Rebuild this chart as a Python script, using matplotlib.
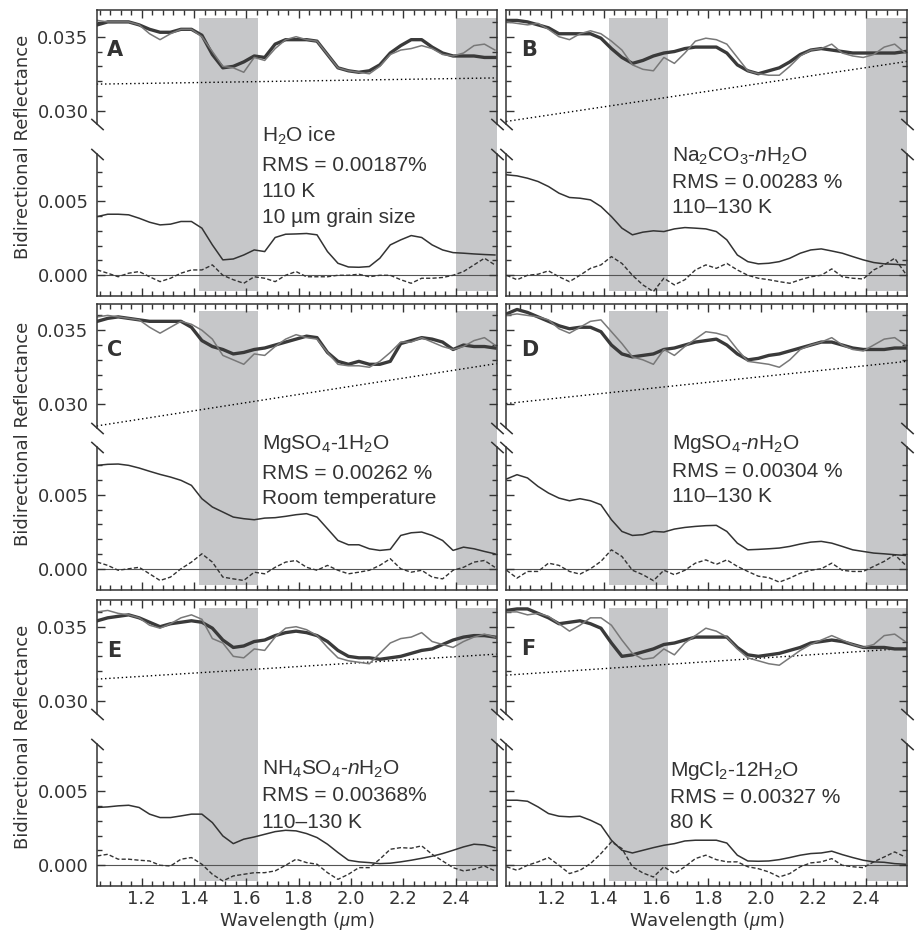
import matplotlib
matplotlib.use('Agg')
import matplotlib.pyplot as plt
import numpy as np
from matplotlib.ticker import FixedLocator, MultipleLocator, NullFormatter

plt.rcParams['font.family'] = 'DejaVu Sans'
plt.rcParams['mathtext.fontset'] = 'custom'
plt.rcParams['mathtext.rm'] = 'Liberation Sans'
plt.rcParams['mathtext.it'] = 'Liberation Sans:italic'

# wavelength grid (um)
wl = [1.03, 1.07, 1.11, 1.15, 1.19, 1.23, 1.27, 1.31, 1.35, 1.39, 1.43, 1.47, 1.51,
      1.55, 1.59, 1.63, 1.67, 1.71, 1.75, 1.79, 1.83, 1.87, 1.91, 1.95, 1.99, 2.03,
      2.07, 2.11, 2.15, 2.19, 2.23, 2.27, 2.31, 2.35, 2.39, 2.43, 2.47, 2.51, 2.55]
cont_wl = [1.028, 2.557]

# ---- A : H2O ice
a_fit = [0.0358, 0.0360, 0.0360, 0.0360, 0.0358, 0.0355, 0.0353, 0.0353, 0.0355, 0.0355, 0.0351, 0.0338, 0.0329,
         0.0330, 0.0333, 0.0337, 0.0336, 0.0345, 0.0348, 0.0348, 0.0348, 0.0347, 0.0338, 0.0329, 0.0327, 0.0326,
         0.0327, 0.0331, 0.0339, 0.0344, 0.0348, 0.0348, 0.0343, 0.0339, 0.0337, 0.0337, 0.0337, 0.0336, 0.0336]
a_obs = [0.0361, 0.0360, 0.0360, 0.0360, 0.0358, 0.0352, 0.0348, 0.0352, 0.0355, 0.0355, 0.0350, 0.0340, 0.0330,
         0.0329, 0.0326, 0.0336, 0.0334, 0.0342, 0.0348, 0.0350, 0.0348, 0.0347, 0.0338, 0.0329, 0.0327, 0.0326,
         0.0325, 0.0330, 0.0338, 0.0341, 0.0342, 0.0344, 0.0342, 0.0338, 0.0337, 0.0339, 0.0344, 0.0345, 0.0341]
a_comp = [0.00396, 0.00412, 0.00412, 0.00408, 0.00385, 0.00358, 0.00340, 0.00345, 0.00363, 0.00363, 0.00318, 0.00205, 0.00104,
          0.00110, 0.00137, 0.00171, 0.00160, 0.00255, 0.00277, 0.00279, 0.00282, 0.00273, 0.00160, 0.00081, 0.00056, 0.00054,
          0.00059, 0.00115, 0.00205, 0.00239, 0.00268, 0.00255, 0.00205, 0.00171, 0.00153, 0.00149, 0.00144, 0.00140, 0.00137]
a_res = [0.00036, 0.00014, -0.0001, 0.00014, 0.00025, -0.0001, -0.00043, -0.0002, 0.00014, 0.00036, 0.00036, 0.0007, 0.0,
         -0.0003, -0.00054, -0.0001, -0.0002, -0.00043, 0.0, 0.00025, -0.0001, -0.0001, -0.0001, 0.0, 0.0, 0.00007,
         -0.0001, 0.0, 0.0, -0.0003, -0.00054, -0.0002, -0.0002, -0.00015, 0.0, 0.00025, 0.0007, 0.00115, 0.0007]
a_cont = [0.0318, 0.03222]

# ---- B : Na2CO3-nH2O
b_fit = [0.0361, 0.0361, 0.0360, 0.0358, 0.0356, 0.0352, 0.0352, 0.0352, 0.0352, 0.0349, 0.0342, 0.0336, 0.0332,
         0.0334, 0.0337, 0.0339, 0.0340, 0.0342, 0.0343, 0.0343, 0.0343, 0.0339, 0.0331, 0.0327, 0.0325, 0.0327,
         0.0329, 0.0333, 0.0338, 0.0341, 0.0342, 0.0341, 0.0340, 0.0339, 0.0339, 0.0339, 0.0339, 0.0339, 0.0340]
b_obs = [0.0360, 0.0359, 0.0358, 0.0359, 0.0355, 0.0350, 0.0348, 0.0352, 0.0354, 0.0352, 0.0347, 0.0341, 0.0331,
         0.0328, 0.0327, 0.0336, 0.0332, 0.0339, 0.0347, 0.0349, 0.0348, 0.0345, 0.0336, 0.0327, 0.0325, 0.0324,
         0.0324, 0.0330, 0.0337, 0.0341, 0.0342, 0.0345, 0.0339, 0.0337, 0.0336, 0.0338, 0.0343, 0.0345, 0.0339]
b_comp = [0.00678, 0.00671, 0.00655, 0.00633, 0.00599, 0.00554, 0.00525, 0.00520, 0.00509, 0.00464, 0.00396, 0.00318, 0.00273,
          0.00291, 0.00300, 0.00295, 0.00313, 0.00322, 0.00318, 0.00313, 0.00295, 0.00239, 0.00137, 0.00092, 0.00077, 0.00081,
          0.00092, 0.00115, 0.00149, 0.00171, 0.00178, 0.00164, 0.00149, 0.00126, 0.00104, 0.00086, 0.00077, 0.00074, 0.00070]
b_res = [0.0, -0.0003, 0.0, 0.00007, 0.0003, -0.0001, -0.00043, 0.0, 0.00047, 0.0007, 0.00126, 0.0008, 0.0,
         -0.00065, -0.0011, -0.0002, -0.00065, -0.0003, 0.00036, 0.0007, 0.00047, 0.0008, 0.00036, 0.0, -0.0002, -0.0003,
         -0.00043, -0.00054, -0.0003, -0.0001, 0.0, 0.00043, -0.0001, -0.0002, -0.00025, 0.00036, 0.0007, 0.00115, 0.00014]
b_cont = [0.02928, 0.03333]

# ---- C : MgSO4-1H2O
c_fit = [0.0356, 0.0358, 0.0359, 0.0358, 0.0357, 0.0356, 0.0356, 0.0356, 0.0356, 0.0352, 0.0343, 0.0339, 0.0337,
         0.0334, 0.0335, 0.0337, 0.0338, 0.0340, 0.0342, 0.0344, 0.0346, 0.0345, 0.0335, 0.0329, 0.0327, 0.0329,
         0.0327, 0.0327, 0.0329, 0.0341, 0.0343, 0.0345, 0.0344, 0.0342, 0.0337, 0.0340, 0.0339, 0.0339, 0.0338]
c_obs = [0.0359, 0.0360, 0.0359, 0.0358, 0.0357, 0.0352, 0.0348, 0.0352, 0.0356, 0.0354, 0.0350, 0.0344, 0.0333,
         0.0330, 0.0327, 0.0334, 0.0333, 0.0339, 0.0344, 0.0347, 0.0345, 0.0344, 0.0335, 0.0327, 0.0326, 0.0326,
         0.0325, 0.0329, 0.0335, 0.0342, 0.0342, 0.0345, 0.0342, 0.0339, 0.0337, 0.0339, 0.0343, 0.0345, 0.0340]
c_comp = [0.00698, 0.00705, 0.00707, 0.00698, 0.00680, 0.00658, 0.00637, 0.00619, 0.00597, 0.00563, 0.00473, 0.00417, 0.00383,
          0.00349, 0.00338, 0.00331, 0.00342, 0.00345, 0.00354, 0.00365, 0.00372, 0.00349, 0.00270, 0.00191, 0.00162, 0.00162,
          0.00135, 0.00124, 0.00131, 0.00225, 0.00243, 0.00248, 0.00225, 0.00191, 0.00124, 0.00146, 0.00135, 0.00117, 0.00101]
c_res = [0.00045, 0.00023, -0.0001, 0.0, 0.0001, -0.00034, -0.00079, -0.00056, 0.0, 0.00045, 0.00101, 0.00045, -0.00056,
         -0.00068, -0.00079, -0.00023, -0.00034, 0.0001, 0.00045, 0.00056, 0.0001, -0.0001, 0.00023, -0.0001, -0.00034, -0.00023,
         -0.0001, 0.00023, 0.00068, 0.0, -0.00023, -0.0001, -0.00056, -0.00068, -0.0001, 0.0001, 0.00045, 0.00056, 0.0001]
c_cont = [0.02854, 0.03275]

# ---- D : MgSO4-nH2O
d_fit = [0.0361, 0.0364, 0.0362, 0.0359, 0.0356, 0.0353, 0.0351, 0.0352, 0.0352, 0.0349, 0.0340, 0.0334, 0.0332,
         0.0333, 0.0334, 0.0337, 0.0338, 0.0340, 0.0342, 0.0343, 0.0344, 0.0340, 0.0334, 0.0330, 0.0331, 0.0333,
         0.0334, 0.0336, 0.0338, 0.0340, 0.0342, 0.0342, 0.0340, 0.0338, 0.0337, 0.0337, 0.0337, 0.0338, 0.0338]
d_obs = [0.0360, 0.0361, 0.0360, 0.0359, 0.0357, 0.0351, 0.0348, 0.0352, 0.0356, 0.0357, 0.0349, 0.0341, 0.0332,
         0.0330, 0.0327, 0.0337, 0.0333, 0.0339, 0.0344, 0.0349, 0.0348, 0.0346, 0.0337, 0.0329, 0.0328, 0.0327,
         0.0325, 0.0330, 0.0337, 0.0340, 0.0342, 0.0345, 0.0340, 0.0337, 0.0336, 0.0340, 0.0344, 0.0345, 0.0340]
d_comp = [0.00606, 0.00635, 0.00613, 0.00556, 0.00511, 0.00477, 0.00459, 0.00473, 0.00459, 0.00432, 0.00331, 0.00252, 0.00225,
          0.00230, 0.00252, 0.00248, 0.00268, 0.00279, 0.00286, 0.00291, 0.00293, 0.00252, 0.00173, 0.00128, 0.00131, 0.00135,
          0.00140, 0.00151, 0.00167, 0.00180, 0.00185, 0.00173, 0.00151, 0.00128, 0.00117, 0.00106, 0.00101, 0.00095, 0.00090]
d_res = [-0.0001, -0.00063, -0.00018, -0.00018, 0.00038, 0.00023, -0.00018, -0.00036, 0.0, 0.0005, 0.00128, 0.00083, -0.0001,
         -0.0004, -0.0008, -0.0001, -0.0004, -0.0001, 0.00038, 0.0006, 0.0003, 0.0006, 0.00016, -0.00018, -0.0005, -0.0006,
         -0.0009, -0.00063, -0.0003, -0.0001, 0.0, 0.00038, -0.0001, -0.00018, -0.00018, 0.00016, 0.0005, 0.00095, 0.00027]
d_cont = [0.03005, 0.0329]

# ---- E : NH4SO4-nH2O
e_fit = [0.0354, 0.0356, 0.0357, 0.0358, 0.0356, 0.0353, 0.0350, 0.0352, 0.0353, 0.0354, 0.0353, 0.0349, 0.0341,
         0.0336, 0.0337, 0.0340, 0.0341, 0.0344, 0.0346, 0.0347, 0.0346, 0.0344, 0.0340, 0.0334, 0.0330, 0.0329,
         0.0329, 0.0328, 0.0329, 0.0330, 0.0332, 0.0334, 0.0335, 0.0338, 0.0341, 0.0343, 0.0344, 0.0344, 0.0343]
e_obs = [0.0360, 0.0361, 0.0359, 0.0358, 0.0356, 0.0351, 0.0349, 0.0352, 0.0356, 0.0358, 0.0355, 0.0342, 0.0339,
         0.0330, 0.0329, 0.0335, 0.0334, 0.0343, 0.0349, 0.0350, 0.0348, 0.0344, 0.0336, 0.0329, 0.0327, 0.0326,
         0.0325, 0.0332, 0.0339, 0.0342, 0.0343, 0.0346, 0.0340, 0.0338, 0.0336, 0.0340, 0.0343, 0.0345, 0.0343]
e_comp = [0.00390, 0.00394, 0.00401, 0.00405, 0.00390, 0.00345, 0.00322, 0.00322, 0.00333, 0.00345, 0.00345, 0.00288, 0.00198,
          0.00146, 0.00176, 0.00191, 0.00209, 0.00227, 0.00236, 0.00232, 0.00214, 0.00187, 0.00142, 0.00086, 0.00034, 0.00023,
          0.00018, 0.00011, 0.00014, 0.00023, 0.00034, 0.00047, 0.00061, 0.00079, 0.00101, 0.00124, 0.00142, 0.00137, 0.00119]
e_res = [0.00063, 0.00074, 0.00041, 0.00041, 0.00034, 0.00029, 0.0, -0.00005, 0.00041, 0.00052, 0.00007, -0.00061, -0.00106,
         -0.00072, -0.00061, -0.0005, -0.0005, -0.00038, 0.0, 0.00041, 0.00018, 0.00007, -0.0005, -0.00095, -0.00061, -0.00016,
         -0.00016, 0.00041, 0.00108, 0.00119, 0.00115, 0.00131, 0.00074, 0.00029, -0.00016, -0.00038, -0.00027, -0.00005, -0.00038]
e_cont = [0.03146, 0.03315]

# ---- F : MgCl2-12H2O
f_fit = [0.0361, 0.0362, 0.0362, 0.0359, 0.0356, 0.0352, 0.0353, 0.0354, 0.0352, 0.0349, 0.0339, 0.0330, 0.0331,
         0.0333, 0.0335, 0.0338, 0.0339, 0.0341, 0.0343, 0.0343, 0.0343, 0.0343, 0.0336, 0.0331, 0.0330, 0.0331,
         0.0332, 0.0334, 0.0336, 0.0339, 0.0340, 0.0341, 0.0340, 0.0338, 0.0336, 0.0336, 0.0336, 0.0335, 0.0335]
f_obs = [0.0360, 0.0360, 0.0358, 0.0359, 0.0357, 0.0352, 0.0347, 0.0351, 0.0356, 0.0356, 0.0351, 0.0341, 0.0332,
         0.0328, 0.0329, 0.0335, 0.0331, 0.0339, 0.0344, 0.0349, 0.0347, 0.0343, 0.0335, 0.0329, 0.0327, 0.0325,
         0.0324, 0.0329, 0.0334, 0.0338, 0.0341, 0.0344, 0.0341, 0.0338, 0.0336, 0.0338, 0.0344, 0.0345, 0.0340]
f_comp = [0.00439, 0.00439, 0.00432, 0.00394, 0.00349, 0.00331, 0.00327, 0.00331, 0.00304, 0.00270, 0.00169, 0.00101, 0.00083,
          0.00101, 0.00119, 0.00135, 0.00146, 0.00164, 0.00169, 0.00169, 0.00169, 0.00150, 0.00068, 0.00029, 0.00027, 0.00029,
          0.00038, 0.00052, 0.00068, 0.00079, 0.00083, 0.00095, 0.00072, 0.00052, 0.00034, 0.00023, 0.00020, 0.00011, 0.00007]
f_res = [-0.0001, -0.00034, 0.0, 0.00023, 0.00052, 0.0, -0.00056, -0.00034, 0.00011, 0.00079, 0.00158, 0.00113, -0.0001,
         -0.00052, -0.00079, -0.0001, -0.00056, -0.0001, 0.00045, 0.00068, 0.00038, 0.00023, 0.00023, -0.0001, -0.00023, -0.00045,
         -0.00079, -0.00056, -0.0001, 0.00016, 0.00023, 0.00045, 0.0, -0.0001, -0.00016, 0.00023, 0.00056, 0.0009, 0.00056]
f_cont = [0.03173, 0.03354]

letters = ['A', 'B', 'C', 'D', 'E', 'F']
notes = [['H$_2$O ice', 'RMS = 0.00187%', '110 K', '10 µm grain size'],
         ['Na$_2$CO$_3$-$n$H$_2$O', 'RMS = 0.00283 %', '110–130 K'],
         ['MgSO$_4$-1H$_2$O', 'RMS = 0.00262 %', 'Room temperature'],
         ['MgSO$_4$-$n$H$_2$O', 'RMS = 0.00304 %', '110–130 K'],
         ['NH$_4$SO$_4$-$n$H$_2$O', 'RMS = 0.00368%', '110–130 K'],
         ['MgCl$_2$-12H$_2$O', 'RMS = 0.00327 %', '80 K']]

fits = [a_fit, b_fit, c_fit, d_fit, e_fit, f_fit]
obss = [a_obs, b_obs, c_obs, d_obs, e_obs, f_obs]
comps = [a_comp, b_comp, c_comp, d_comp, e_comp, f_comp]
ress = [a_res, b_res, c_res, d_res, e_res, f_res]
conts = [a_cont, b_cont, c_cont, d_cont, e_cont, f_cont]

# layout (figure fractions) and per panel tweaks
col_left = [0.1056, 0.5524]
col_w = [0.4367, 0.4378]
row_bot = [0.6817, 0.3661, 0.0473]
row_h = 0.3075
brk_hi = [0.0291, 0.0291, 0.0284, 0.0284, 0.0291, 0.0291]
note_x = [0.4125, 0.413, 0.4125, 0.413, 0.4125, 0.409]
note_y = [[131.5, 160.5, 186.5, 212.5], [151.5, 178, 203], [145, 175, 200],
          [145, 173.5, 198.5], [174.5, 201, 227.5], [176, 202.5, 227.5]]
let_x = [0.026, 0.037, 0.026, 0.037, 0.026, 0.037]
let_y = [0.86, 0.86, 0.839, 0.839, 0.823, 0.83]

LO = 0.0082
SHIFT = 0.0189
INK = '#333333'


def make_scale(hi):
    top = hi - SHIFT

    def fwd(y):
        y = np.asarray(y, dtype=float)
        mid = LO + (y - LO) * (top - LO) / (hi - LO)
        return np.where(y <= LO, y, np.where(y >= hi, y - SHIFT, mid))

    def inv(v):
        v = np.asarray(v, dtype=float)
        mid = LO + (v - LO) * (hi - LO) / (top - LO)
        return np.where(v <= LO, v, np.where(v >= top, v + SHIFT, mid))
    return fwd, inv


fig = plt.figure(figsize=(9.16, 9.30), dpi=100)

for i in range(6):
    r, c = i // 2, i % 2
    ax = fig.add_axes([col_left[c], row_bot[r], col_w[c], row_h])
    hi = brk_hi[i]
    ax.set_yscale('function', functions=make_scale(hi))
    ax.set_xlim(1.028, 2.557)
    ax.set_ylim(-0.0014, 0.0368)

    for x0, x1 in [(1.42, 1.645), (2.40, 2.60)]:
        ax.axvspan(x0, x1, ymin=0.016, ymax=0.973, color='#c6c7c9', lw=0, zorder=0)

    ax.axhline(0, color='#555555', lw=0.8, zorder=1)
    ax.plot(cont_wl, conts[i], color='black', lw=1.0, ls=(0, (1, 2)), zorder=2)
    ax.plot(wl, fits[i], color='#3a3a3a', lw=2.4, zorder=3)
    ax.plot(wl, obss[i], color='#787878', lw=1.1, zorder=4)
    ax.plot(wl, comps[i], color=INK, lw=1.1, zorder=3)
    ax.plot(wl, ress[i], color=INK, lw=1.0, ls=(0, (3, 1.6)), zorder=3)

    # frame with broken vertical spines
    for s in ['top', 'bottom']:
        ax.spines[s].set_color(INK)
        ax.spines[s].set_linewidth(1.1)
    ax.spines['left'].set_visible(False)
    ax.spines['right'].set_visible(False)
    tr = ax.get_yaxis_transform()
    for xs in (0, 1):
        ax.plot([xs, xs], [-0.0014, LO], transform=tr, color=INK, lw=1.1, clip_on=False, zorder=5)
        ax.plot([xs, xs], [hi, 0.0368], transform=tr, color=INK, lw=1.1, clip_on=False, zorder=5)
        ax.plot([xs, xs], [LO, hi], transform=tr, ls='none', marker=[(-1, 0.9), (1, -0.9)],
                markersize=9, mew=1.1, color=INK, clip_on=False, zorder=5)

    ax.xaxis.set_major_locator(MultipleLocator(0.2))
    ax.xaxis.set_minor_locator(MultipleLocator(0.04))
    ax.yaxis.set_major_locator(FixedLocator([0.0, 0.005, 0.030, 0.035]))
    ax.yaxis.set_minor_locator(FixedLocator([0.001, 0.002, 0.003, 0.004, 0.006, 0.007,
                                             0.031, 0.032, 0.033, 0.034, 0.036]))
    ax.tick_params(which='both', direction='in', top=True, right=True, color=INK,
                   labelcolor=INK, labelsize=13, pad=6)
    ax.tick_params(axis='x', which='both', pad=3)
    ax.tick_params(which='major', length=6, width=1.0)
    ax.tick_params(which='minor', length=3.5, width=1.0)

    if c == 0:
        ax.set_yticklabels(['0.000', '0.005', '0.030', '0.035'])
    else:
        ax.yaxis.set_major_formatter(NullFormatter())
    if r == 2:
        ax.set_xticklabels(['%.1f' % v for v in ax.get_xticks()])
        ax.set_xlabel('Wavelength ($\\mu$m)', fontsize=13, color=INK, labelpad=1)
    else:
        ax.xaxis.set_major_formatter(NullFormatter())

    ax.text(let_x[i], let_y[i], letters[i], transform=ax.transAxes, fontsize=15,
            fontweight='bold', color=INK, va='center', ha='left')
    for line, yp in zip(notes[i], note_y[i]):
        ax.text(note_x[i], (286 - yp) / 286, line, transform=ax.transAxes, fontsize=15,
                family='Liberation Sans', color=INK, va='baseline', ha='left')

for yc in [0.8425, 0.5333, 0.2078]:
    fig.text(0.0251, yc, 'Bidirectional Reflectance', rotation=90, fontsize=13,
             color=INK, va='center', ha='center')

fig.savefig('out.png', dpi=100)
